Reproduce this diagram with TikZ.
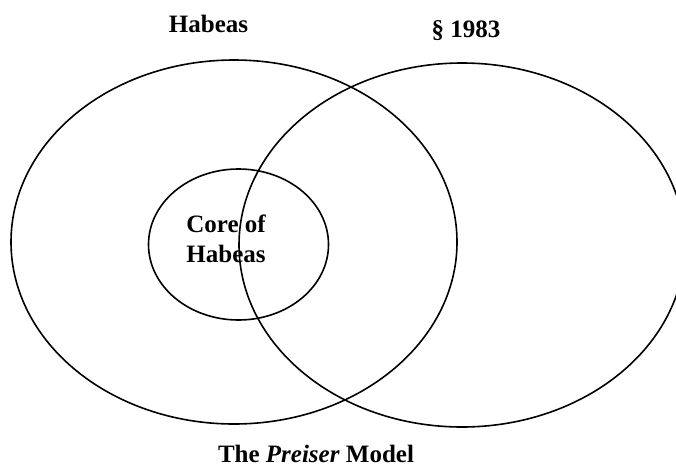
\documentclass[tikz,border=0pt]{standalone}
\usepackage{fontspec}
\setmainfont{Liberation Serif}
\usetikzlibrary{shapes.geometric}
\tikzset{%
  setshape/.style={draw,ellipse,line width=1.6pt,inner sep=0pt},
  settext/.style={inner sep=0pt,font=\fontsize{25}{30}\selectfont\bfseries}%
}

\begin{document}
\begin{tikzpicture}[x=1pt,y=-1pt]

\useasboundingbox (0,0) rectangle (676,468);

% Sets
\node[setshape,minimum width=446pt,minimum height=364pt] (habeas) at (234,242) {};
\node[setshape,minimum width=446pt,minimum height=364pt] (sec) at (462,245) {};
\node[setshape,minimum width=180pt,minimum height=151pt] (core) at (238.5,244.5) {};

% Labels
\node[settext,anchor=base] (habeaslbl) at (208.5,33) {Habeas};
\node[settext,anchor=base] (seclbl) at (466,38) {\S\ 1983};
\node[settext,align=center] (corelbl) at (226,239) {Core of\\Habeas};
\node[settext,anchor=base] (model) at (316,462) {The \textit{Preiser} Model};

\end{tikzpicture}
\end{document}
